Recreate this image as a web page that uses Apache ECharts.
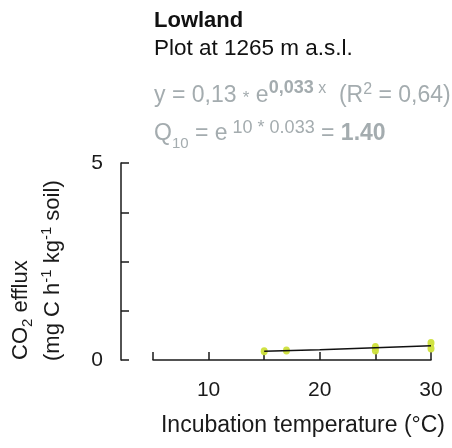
<!DOCTYPE html>
<html><head><meta charset="utf-8">
<script src="https://cdn.jsdelivr.net/npm/echarts@6/dist/echarts.min.js"></script>
<style>html,body{margin:0;padding:0;background:#fff}#c{width:452px;height:448px}</style>
</head><body><div id="c"></div>
<script>
// ---- data ----
const temperatures = [15, 17, 25, 25, 30, 30];
const effluxValues = [0.22, 0.24, 0.33, 0.24, 0.43, 0.29];
const fitTemperatures = [15, 20, 25, 30];
const fitValues = [0.22, 0.26, 0.31, 0.36];
const xTickLabels = [10, 20, 30];
const yTickLabels = [0, 5];

const FF = '"Liberation Sans", Arial, Helvetica, sans-serif';
const DARK = '#1a1a1a';
const GRAY = '#a4acaf';
const cv = document.createElement('canvas').getContext('2d');
function tw(t, s, b) { cv.font = (b ? 'bold ' : '') + s + 'px ' + FF; return cv.measureText(t).width; }
// pieces laid out along a baseline (local y = 0 is the baseline)
function textLine(x, baseY, pieces, color, rot) {
  let cx = 0; const children = [];
  pieces.forEach(p => {
    children.push({
      type: 'text', x: cx, y: (p.dy || 0) - 0.33 * p.s,
      style: { text: p.t, font: (p.b ? 'bold ' : '') + p.s + 'px ' + FF, fill: color, textVerticalAlign: 'middle', verticalAlign: 'middle' }
    });
    cx += tw(p.t, p.s, p.b);
  });
  return { type: 'group', x: x, y: baseY, rotation: rot || 0, children: children };
}

const scatterData = temperatures.map((t, i) => [t, effluxValues[i]]);
const fitData = fitTemperatures.map((t, i) => [t, fitValues[i]]);

const chart = echarts.init(document.getElementById('c'), null, { renderer: 'canvas' });
const axisStyle = { color: DARK, width: 1.5 };
chart.setOption({
  animation: false,
  backgroundColor: '#fff',
  grid: { left: 153, right: 21, top: 163, bottom: 88 },
  xAxis: {
    type: 'value', min: 5, max: 30, interval: 5,
    axisLine: { show: true, lineStyle: axisStyle },
    axisTick: { show: true, inside: true, length: 8, lineStyle: axisStyle },
    splitLine: { show: false },
    axisLabel: {
      margin: 20, fontSize: 21, fontFamily: FF, color: DARK,
      formatter: v => xTickLabels.indexOf(v) >= 0 ? String(v) : ''
    }
  },
  yAxis: {
    type: 'value', min: 0, max: 5, interval: 1.25, offset: 32,
    axisLine: { show: true, lineStyle: axisStyle },
    axisTick: { show: true, inside: true, length: 8, lineStyle: axisStyle },
    splitLine: { show: false },
    axisLabel: {
      margin: 18, fontSize: 21, fontFamily: FF, color: DARK,
      formatter: v => yTickLabels.indexOf(v) >= 0 ? String(v) : ''
    }
  },
  series: [
    {
      type: 'scatter', data: scatterData, symbol: 'circle', symbolSize: [7, 8],
      itemStyle: { color: '#cde03a', opacity: 0.95 }, z: 2
    },
    {
      type: 'line', data: fitData, symbol: 'none', smooth: true,
      lineStyle: { color: '#111', width: 1.5 }, z: 3
    }
  ],
  graphic: [
    textLine(154, 28, [{ t: 'Lowland', s: 22, b: true }], '#111'),
    textLine(154, 56.5, [{ t: 'Plot at 1265 m a.s.l.', s: 22.5 }], '#111'),
    textLine(154, 103, [
      { t: 'y = 0,13 ', s: 23 }, { t: '*', s: 17, dy: 1 }, { t: ' e', s: 23 },
      { t: '0,033', s: 18, b: true, dy: -9.5 }, { t: ' x', s: 16, dy: -9.5 },
      { t: '  (R', s: 23 }, { t: '2', s: 16, dy: -8 }, { t: ' = 0,64)', s: 23 }
    ], GRAY),
    textLine(154, 141.5, [
      { t: 'Q', s: 23 }, { t: '10', s: 15, dy: 7 }, { t: ' = e', s: 23 },
      { t: ' 10 * 0.033', s: 18, dy: -8 }, { t: ' = ', s: 23 }, { t: '1.40', s: 23, b: true }
    ], GRAY),
    {
      type: 'text', x: 303, y: 426,
      style: { text: 'Incubation temperature (°C)', font: '23px ' + FF, fill: DARK, textAlign: 'center', textVerticalAlign: 'middle', align: 'center', verticalAlign: 'middle' }
    },
    textLine(28, 360, [{ t: 'CO', s: 22 }, { t: '2', s: 15, dy: 5 }, { t: ' efflux', s: 22 }], DARK, Math.PI / 2),
    textLine(60, 361, [
      { t: '(mg C h', s: 22 }, { t: '-1', s: 15, dy: -8 }, { t: ' kg', s: 22 },
      { t: '-1', s: 15, dy: -8 }, { t: ' soil)', s: 22 }
    ], DARK, Math.PI / 2)
  ]
});
</script>
</body></html>
